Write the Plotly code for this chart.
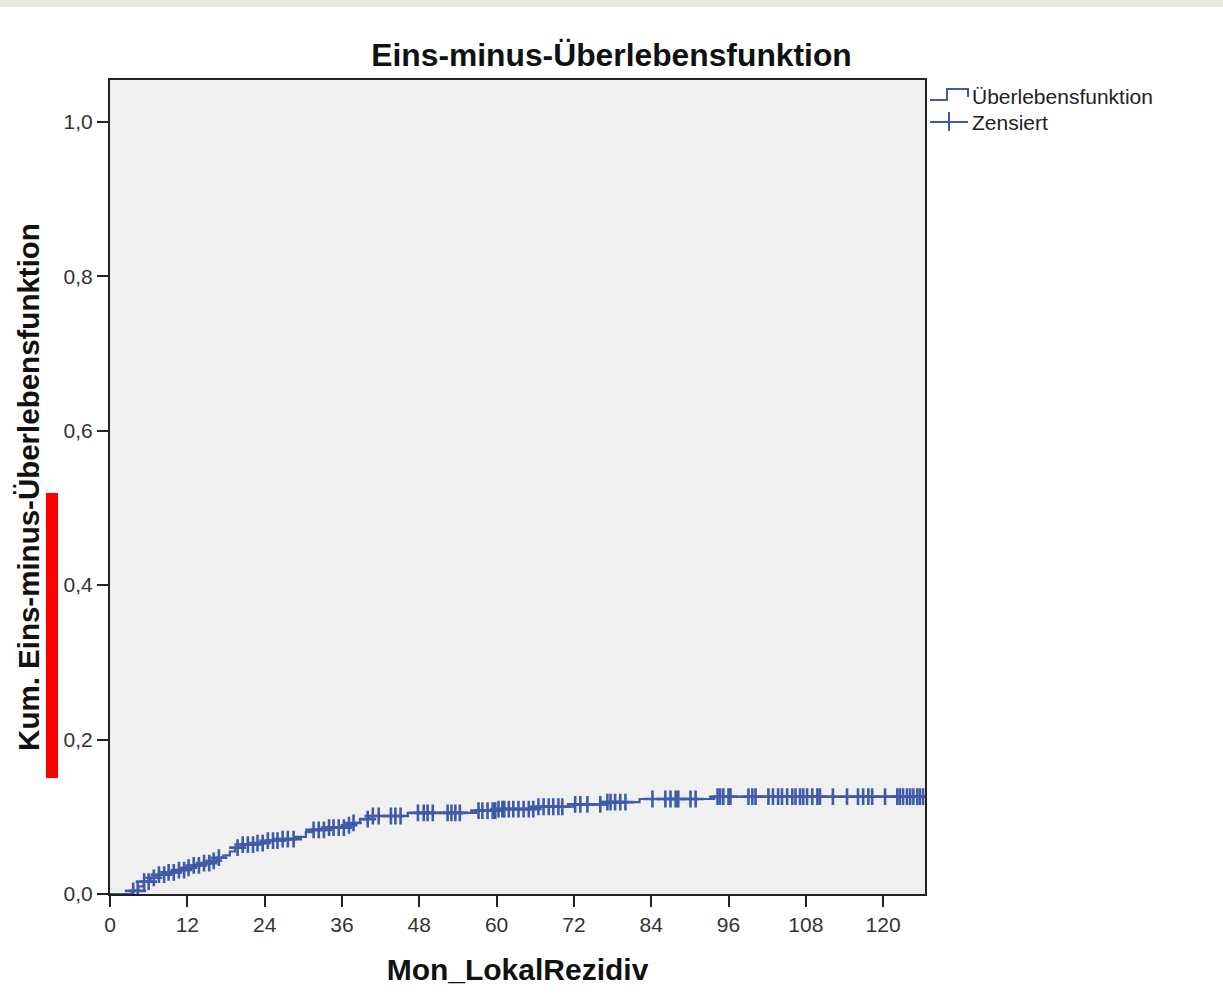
import numpy as np
import plotly.graph_objects as go

# Event times (months) and cumulative incidence after each event
event_months = [3.4, 4.4, 5.2, 6.3, 7.4, 8.8, 10.2, 11.6, 13.0, 14.4, 15.6, 16.6,
                17.6, 18.6, 19.4, 20.6, 22.4, 24.2, 26.4, 28.6, 30.4, 31.4, 33.8,
                36.4, 37.8, 38.8, 40.2, 46.2, 56.8, 60.0, 66.0, 72.0, 77.0, 82.2, 93.8]
cum_incidence = [0.004, 0.010, 0.016, 0.021, 0.025, 0.028, 0.031, 0.034, 0.037,
                 0.040, 0.043, 0.047, 0.050, 0.055, 0.060, 0.064, 0.066, 0.069,
                 0.071, 0.074, 0.080, 0.083, 0.086, 0.089, 0.092, 0.097, 0.101,
                 0.105, 0.108, 0.110, 0.113, 0.116, 0.119, 0.123, 0.126]

# Censored follow-up times (months)
censored_months = [3.6, 4.3, 5.3, 6.0, 6.8, 7.6, 8.4, 9.1, 9.9, 10.7, 11.5, 12.2,
                   13.0, 13.8, 14.6, 15.4, 16.1, 16.9, 19.8, 20.6, 21.4, 22.2, 22.9,
                   23.7, 24.5, 25.3, 26.0, 26.8, 27.6, 28.5, 31.6, 32.4, 33.2, 34.0,
                   34.7, 35.5, 36.3, 37.1, 37.8, 40.0, 40.8, 41.7, 43.6, 44.3, 45.1,
                   47.8, 48.7, 49.3, 50.1, 52.4, 53.0, 53.6, 54.3, 57.2, 57.8, 58.6,
                   59.4, 59.8, 60.3, 60.9, 61.2, 61.9, 62.6, 63.4, 64.2, 65.0, 65.7,
                   66.5, 67.3, 68.1, 68.8, 69.6, 70.2, 72.2, 73.0, 74.1, 76.1, 77.2,
                   77.7, 78.4, 79.2, 80.0, 84.2, 86.2, 87.0, 87.8, 88.2, 90.1, 90.9,
                   94.3, 94.7, 95.2, 96.0, 96.3, 99.1, 99.7, 100.2, 102.2, 102.9,
                   103.7, 104.3, 105.1, 105.9, 106.4, 107.1, 107.6, 108.2, 109.0,
                   109.8, 110.2, 112.2, 114.4, 116.1, 116.9, 117.7, 118.3, 120.3,
                   122.2, 122.6, 123.1, 123.7, 124.2, 124.7, 125.3, 125.7, 126.2]

x_ticks = [0, 12, 24, 36, 48, 60, 72, 84, 96, 108, 120]
y_ticks = [0.0, 0.2, 0.4, 0.6, 0.8, 1.0]
legend_labels = ["Überlebensfunktion", "Zensiert"]
x_max = 126.5
y_max = 1.054

BLUE = "#3F5AA9"
FONT = "Liberation Sans, Arial, sans-serif"

# Plot area in pixels (used to place the hand-drawn legend keys)
L, R, T, B = 110, 925, 80, 894
W, H = R - L, B - T


def px(x):
    return (x - L) / W


def py(y):
    return (B - y) / H


# Step curve: start at 0 and extend to the end of follow-up
step_x = [0.0] + event_months + [max(censored_months)]
step_y = [0.0] + cum_incidence + [cum_incidence[-1]]

# Height of the curve at each censoring time
ev = np.array(event_months)
cy = np.array(cum_incidence)
idx = np.searchsorted(ev, np.array(censored_months), side="right") - 1
censored_y = np.where(idx >= 0, cy[np.clip(idx, 0, None)], 0.0)

fig = go.Figure()
fig.add_trace(go.Scatter(
    x=step_x, y=step_y, mode="lines", line_shape="hv",
    line=dict(color=BLUE, width=2.2), name=legend_labels[0], showlegend=False,
))
fig.add_trace(go.Scatter(
    x=censored_months, y=censored_y, mode="markers", name=legend_labels[1],
    showlegend=False,
    marker=dict(symbol="cross-thin", size=12, line=dict(color=BLUE, width=2.6), color=BLUE),
))

axis_common = dict(
    showline=True, mirror=True, linecolor="#222222", linewidth=2,
    ticks="outside", ticklen=11, tickwidth=2, tickcolor="#222222",
    showgrid=False, zeroline=False,
    tickfont=dict(family=FONT, size=21, color="#333333"),
)

fig.update_layout(
    width=1223, height=1008,
    margin=dict(l=L, r=1223 - R, t=T, b=1008 - B),
    paper_bgcolor="white", plot_bgcolor="#F0F0F0",
    separators=",.",
    title=dict(text="<b>Eins-minus-Überlebensfunktion</b>", x=0.5, xref="container",
               xanchor="center", y=1 - 55 / 1008, yref="container", yanchor="middle",
               font=dict(family=FONT, size=31.8, color="#111111")),
    xaxis=dict(range=[0, x_max], tickvals=x_ticks,
               title=dict(text="<b>Mon_LokalRezidiv</b>", standoff=24,
                          font=dict(family=FONT, size=30, color="#111111")),
               **axis_common),
    yaxis=dict(range=[0, y_max], tickvals=y_ticks, tickformat=".1f",
               title=dict(text="<b>Kum. Eins-minus-Überlebensfunktion</b>",
                          font=dict(family=FONT, size=29.5, color="#111111")),
               **axis_common),
    showlegend=False,
)

# Legend keys: step symbol for the curve, cross for censored cases
fig.add_shape(type="path", xref="paper", yref="paper",
              path=(f"M {px(930)} {py(100)} L {px(947)} {py(100)} L {px(947)} {py(89)} "
                    f"L {px(968)} {py(89)} L {px(968)} {py(97)}"),
              line=dict(color=BLUE, width=2), layer="above")
fig.add_shape(type="line", xref="paper", yref="paper",
              x0=px(930), x1=px(968), y0=py(122), y1=py(122),
              line=dict(color=BLUE, width=2), layer="above")
fig.add_shape(type="line", xref="paper", yref="paper",
              x0=px(949), x1=px(949), y0=py(112), y1=py(131),
              line=dict(color=BLUE, width=2), layer="above")
for label, ypix in zip(legend_labels, [97, 123]):
    fig.add_annotation(text=label, xref="paper", yref="paper", x=px(970), y=py(ypix),
                       xanchor="left", yanchor="middle", showarrow=False,
                       font=dict(family=FONT, size=21, color="#222222"))

# Beige band along the top of the page and the red highlight bar beside the y axis
fig.add_shape(type="rect", xref="paper", yref="paper",
              x0=px(0), x1=px(1223), y0=py(7), y1=py(0),
              fillcolor="#ECEAE0", line=dict(width=0), layer="above")
fig.add_shape(type="rect", xref="paper", yref="paper",
              x0=px(46), x1=px(58), y0=py(778), y1=py(493),
              fillcolor="#FF0000", line=dict(width=0), layer="above")

fig.write_html("out.html")
